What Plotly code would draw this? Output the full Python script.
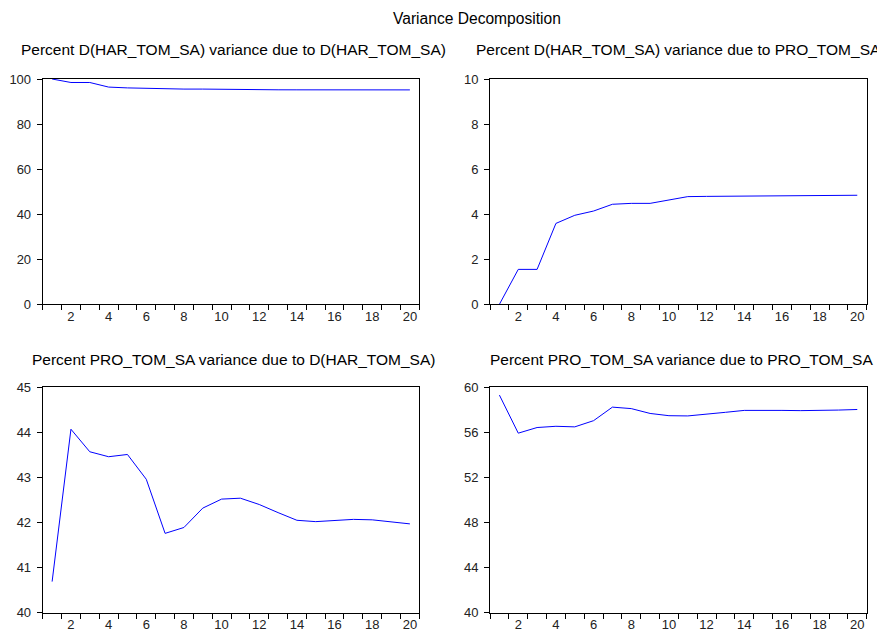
import plotly.graph_objects as go

periods = list(range(1, 21))

har_due_har = [100.0, 98.45, 98.45, 96.41, 96.05, 95.86, 95.56, 95.52, 95.52, 95.37,
               95.22, 95.21, 95.20, 95.19, 95.185, 95.18, 95.18, 95.17, 95.16, 95.16]
har_due_pro = [0.0, 1.55, 1.55, 3.59, 3.95, 4.14, 4.44, 4.48, 4.48, 4.63,
               4.78, 4.79, 4.80, 4.81, 4.815, 4.82, 4.82, 4.83, 4.84, 4.84]
pro_due_har = [40.69, 44.07, 43.57, 43.46, 43.51, 42.96, 41.76, 41.89, 42.32, 42.52,
               42.54, 42.40, 42.22, 42.05, 42.02, 42.05, 42.07, 42.06, 42.02, 41.97]
pro_due_pro = [59.31, 55.93, 56.43, 56.54, 56.49, 57.04, 58.24, 58.11, 57.68, 57.48,
               57.46, 57.60, 57.78, 57.95, 57.98, 57.95, 57.93, 57.94, 57.98, 58.03]

titles = [
    "Percent D(HAR_TOM_SA) variance due to D(HAR_TOM_SA)",
    "Percent D(HAR_TOM_SA) variance due to PRO_TOM_SA",
    "Percent PRO_TOM_SA variance due to D(HAR_TOM_SA)",
    "Percent PRO_TOM_SA variance due to PRO_TOM_SA",
]
main_title = "Variance Decomposition"

y_ticks = [
    [0, 20, 40, 60, 80, 100],
    [0, 2, 4, 6, 8, 10],
    [40, 41, 42, 43, 44, 45],
    [40, 44, 48, 52, 56, 60],
]
x_labels = [2, 4, 6, 8, 10, 12, 14, 16, 18, 20]
x_minor = [i + 0.5 for i in range(0, 21)]

series = [har_due_har, har_due_pro, pro_due_har, pro_due_pro]

W, H = 885, 634
# the page body has an 8px default margin; compensate so the on-screen layout matches
OX, OY = 8, 8
FONT = "Liberation Sans, Arial, sans-serif"

# plot area boxes in on-screen pixels (left, right, top, bottom)
boxes = [
    (42.7, 419.3, 79.0, 304.3),
    (490.0, 866.7, 79.0, 304.3),
    (42.7, 419.3, 387.3, 612.7),
    (490.0, 866.7, 387.3, 612.7),
]
title_pos = [(233.5, 49), (678, 49), (233.5, 359), (681, 359)]


def px(x):
    return (x - OX) / W


def py(y):
    return 1 - (y - OY) / H


fig = go.Figure()
for i, (ys, box) in enumerate(zip(series, boxes)):
    n = i + 1
    xa = "x" if n == 1 else f"x{n}"
    ya = "y" if n == 1 else f"y{n}"
    fig.add_trace(go.Scatter(x=periods, y=ys, mode="lines",
                             line=dict(color="#0000FF", width=1),
                             xaxis=xa, yaxis=ya, showlegend=False))
    l, r, t, b = box
    xkey = "xaxis" if n == 1 else f"xaxis{n}"
    ykey = "yaxis" if n == 1 else f"yaxis{n}"
    fig.layout[xkey] = dict(
        domain=[px(l), px(r)], anchor=ya, range=[0.5, 20.5],
        tickmode="array", tickvals=x_labels, ticks="",
        showline=True, linecolor="black", linewidth=1, mirror=True,
        showgrid=False, zeroline=False, automargin=False,
        tickfont=dict(family=FONT, size=13, color="#222"),
        minor=dict(tickmode="array", tickvals=x_minor, ticks="outside",
                   ticklen=5, tickcolor="black", tickwidth=1, showgrid=False),
        fixedrange=True,
    )
    yt = y_ticks[i]
    fig.layout[ykey] = dict(
        domain=[py(b), py(t)], anchor=xa, range=[yt[0], yt[-1]],
        tickmode="array", tickvals=yt, ticks="outside", ticklen=5,
        tickcolor="black", tickwidth=1, ticklabelstandoff=3,
        showline=True, linecolor="black", linewidth=1, mirror=True,
        showgrid=False, zeroline=False, automargin=False,
        tickfont=dict(family=FONT, size=13, color="#222"),
        fixedrange=True,
    )

annotations = [dict(text=main_title, x=px(477), y=py(18), xref="paper", yref="paper",
                    xanchor="center", yanchor="middle", showarrow=False,
                    font=dict(family=FONT, size=15.6, color="black"))]
for txt, (cx, cy) in zip(titles, title_pos):
    annotations.append(dict(text=txt, x=px(cx), y=py(cy), xref="paper", yref="paper",
                            xanchor="center", yanchor="middle", showarrow=False,
                            font=dict(family=FONT, size=15.5, color="black")))

fig.update_layout(
    width=W, height=H,
    margin=dict(l=0, r=0, t=0, b=0, autoexpand=False),
    paper_bgcolor="white", plot_bgcolor="white",
    annotations=annotations,
    showlegend=False,
)

fig.write_html("out.html")
